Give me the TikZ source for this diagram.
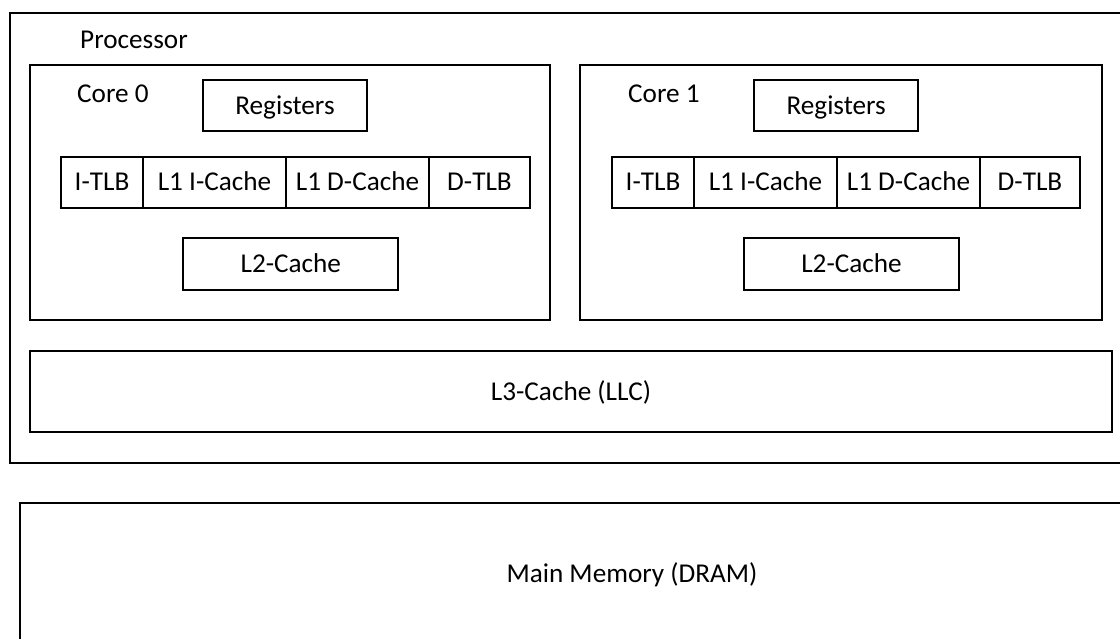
\documentclass[tikz,border=0pt]{standalone}
\usepackage{fontspec}
\setmainfont{Carlito}
\begin{document}
\begin{tikzpicture}[x=1pt,y=-1pt,
  every node/.style={font=\fontsize{27.2}{31}\selectfont, inner sep=0pt,
                     text height=17.5pt, text depth=0pt},
  blk/.style 2 args={draw, line width=2pt, minimum width=#1, minimum height=#2},
  tag/.style={anchor=west}]
  \useasboundingbox (0,0) rectangle (1120,638);
  \clip (0,0) rectangle (1120,638);

  % processor package
  \node[blk={1125}{449.5}] (proc) at (572.5,237.75) {};
  \node[tag] (proclabel) at (80,40) {Processor};

  % core 0
  \node[blk={520}{255}] (core0) at (290,192.5) {};
  \node[tag] (core0label) at (77,93.3) {Core 0};
  \node[blk={163.4}{51}] (reg0) at (285,105.5) {Registers};
  \node[blk={82}{51}]  (itlb0) at (102,182) {I-TLB};
  \node[blk={143}{51}] (ic0)   at (214.5,182) {L1 I-Cache};
  \node[blk={143}{51}] (dc0)   at (357.5,182) {L1 D-Cache};
  \node[blk={101}{51}] (dtlb0) at (479.5,182) {D-TLB};
  \node[blk={215}{51.5}] (l20) at (290.8,263.75) {L2-Cache};

  % core 1
  \node[blk={522}{255}] (core1) at (841,192.5) {};
  \node[tag] (core1label) at (628,93.3) {Core 1};
  \node[blk={164}{51}] (reg1) at (836.2,105.5) {Registers};
  \node[blk={82}{51}]  (itlb1) at (653,182) {I-TLB};
  \node[blk={143}{51}] (ic1)   at (765.5,182) {L1 I-Cache};
  \node[blk={143}{51}] (dc1)   at (908.5,182) {L1 D-Cache};
  \node[blk={100}{51}] (dtlb1) at (1030,182) {D-TLB};
  \node[blk={215}{51.5}] (l21) at (851.5,263.75) {L2-Cache};

  % shared last-level cache
  \node[blk={1082}{81.6}] (l3) at (571,391.5) {L3-Cache (LLC)};

  % off-chip memory
  \node[blk={1224}{142}] (mem) at (632,574) {Main Memory (DRAM)};
\end{tikzpicture}
\end{document}
